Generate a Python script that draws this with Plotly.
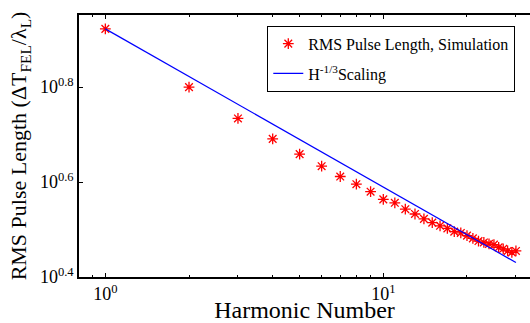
import plotly.graph_objects as go
import math

harmonic = list(range(1, 31))
pulse_len = [8.37, 6.31, 5.42, 4.91, 4.56, 4.30, 4.09, 3.94, 3.80, 3.66,
             3.60, 3.49, 3.41, 3.33, 3.27, 3.22, 3.18, 3.13, 3.11, 3.07,
             3.03, 2.99, 2.97, 2.95, 2.94, 2.90, 2.88, 2.85, 2.83, 2.85]
scaling_x = [1, 30]
scaling_y = [8.37, 2.694]

y_tickvals = [10 ** 0.4, 10 ** 0.6, 10 ** 0.8]
y_ticktext = ["10<sup>0.4</sup>", "10<sup>0.6</sup>", "10<sup>0.8</sup>"]
x_tickvals = [1, 10]
x_ticktext = ["10<sup>0</sup>", "10<sup>1</sup>"]
x_minor = [0.9, 2, 3, 4, 5, 6, 7, 8, 9, 20, 30]

FONT = "Liberation Serif, Times New Roman, serif"

fig = go.Figure()
fig.add_trace(go.Scatter(
    x=harmonic, y=pulse_len, mode="markers",
    name="RMS Pulse Length, Simulation", legendgroup="a",
    marker=dict(symbol="asterisk", size=9, color="red",
                line=dict(color="red", width=1.3)),
))
fig.add_trace(go.Scatter(
    x=scaling_x, y=scaling_y, mode="lines",
    name="H<sup>-1/3</sup>Scaling", legendgroup="b",
    line=dict(color="blue", width=1.2),
))

fig.update_layout(
    width=530, height=323,
    margin=dict(l=79, r=0, t=15, b=46),
    paper_bgcolor="white", plot_bgcolor="white",
    font=dict(family=FONT, color="black", size=18),
    showlegend=True,
    legend=dict(
        x=0.4175, y=0.959, xanchor="left", yanchor="top",
        bordercolor="black", borderwidth=1, bgcolor="white",
        font=dict(family=FONT, size=16, color="black"),
        traceorder="grouped", tracegroupgap=6,
    ),
    xaxis=dict(
        type="log", range=[math.log10(0.804), 1.5277],
        showline=True, linecolor="black", linewidth=1.5, mirror="ticks",
        ticks="inside", ticklen=4, tickcolor="black", tickwidth=1,
        tickmode="array", tickvals=x_tickvals, ticktext=x_ticktext,
        showgrid=False, zeroline=False,
        minor=dict(tickmode="array", tickvals=x_minor, ticks="inside",
                   ticklen=2.5, tickcolor="black", tickwidth=1, showgrid=False),
        tickfont=dict(family=FONT, size=18),
        title=dict(text="Harmonic Number", font=dict(family=FONT, size=24),
                   standoff=3),
    ),
    yaxis=dict(
        type="log", range=[0.4, 0.952],
        showline=True, linecolor="black", linewidth=1.5, mirror=False,
        ticks="inside", ticklen=4, tickcolor="black", tickwidth=1,
        tickmode="array", tickvals=y_tickvals, ticktext=y_ticktext,
        showgrid=False, zeroline=False,
        tickfont=dict(family=FONT, size=18),
        title=dict(text="RMS Pulse Length (\u0394T<sub>FEL</sub>/\u03bb<sub>L</sub>)",
                   font=dict(family=FONT, size=22), standoff=7),
    ),
)

fig.write_html("out.html")
